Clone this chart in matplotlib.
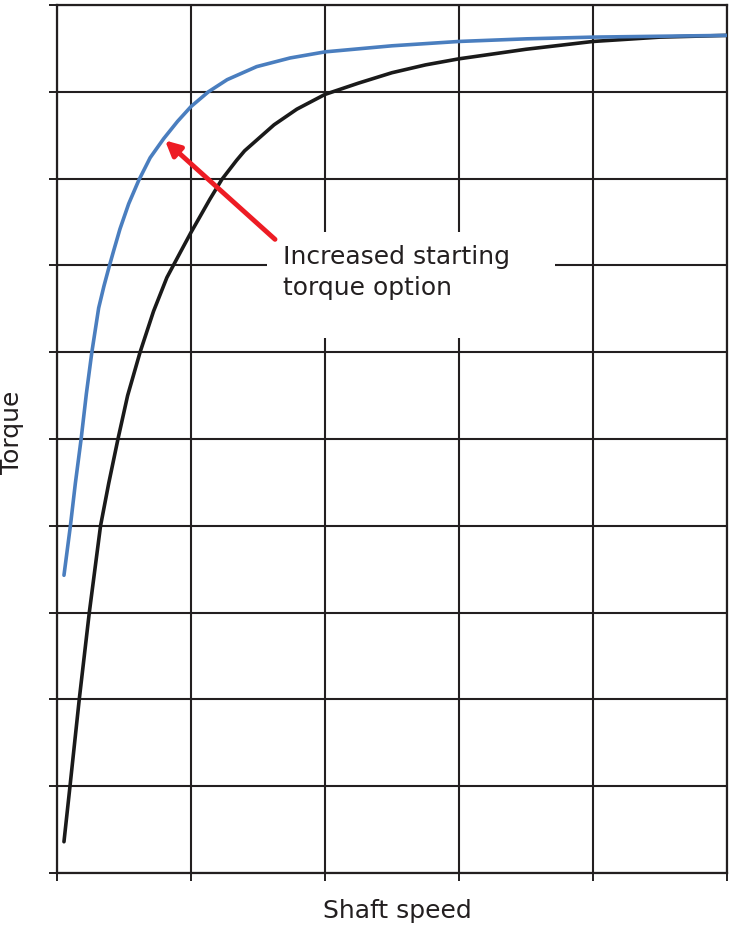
import matplotlib
matplotlib.use("Agg")
import matplotlib.pyplot as plt
from matplotlib.patches import Rectangle

# data (x: shaft speed grid units, y: torque grid units)
black_x = [0.052, 0.097, 0.166, 0.241, 0.325, 0.386, 0.455, 0.527, 0.62, 0.72, 0.82, 0.92, 1.0,
           1.14, 1.23, 1.34, 1.40, 1.62, 1.79, 2.0, 2.25, 2.5, 2.75, 3.0, 3.5, 4.0, 4.5, 5.0]
black_y = [0.36, 1.0, 2.0, 3.0, 4.0, 4.49, 5.0, 5.50, 6.0, 6.47, 6.86, 7.15, 7.38,
           7.76, 7.99, 8.21, 8.32, 8.62, 8.80, 8.97, 9.10, 9.22, 9.31, 9.38, 9.49, 9.58, 9.63, 9.65]

blue_x = [0.052, 0.10, 0.137, 0.18, 0.219, 0.26, 0.311, 0.35, 0.39, 0.423, 0.47, 0.535, 0.61, 0.695,
          0.796, 0.90, 1.0, 1.13, 1.27, 1.49, 1.74, 2.0, 2.5, 3.0, 3.5, 4.0, 4.5, 5.0]
blue_y = [3.43, 4.0, 4.49, 5.0, 5.52, 6.0, 6.51, 6.76, 6.99, 7.17, 7.42, 7.71, 7.98, 8.24,
          8.46, 8.66, 8.83, 9.0, 9.14, 9.29, 9.39, 9.46, 9.53, 9.58, 9.61, 9.63, 9.64, 9.65]

x_ticks = [0, 1, 2, 3, 4, 5]
y_ticks = [0, 1, 2, 3, 4, 5, 6, 7, 8, 9, 10]

annotation_text = "Increased starting\ntorque option"
arrow_tip = (0.806, 8.44)
arrow_tail = (1.627, 7.30)

fig = plt.figure(figsize=(7.29, 9.26), dpi=100)
ax = fig.add_axes([57/729, (926-873)/926, (727-57)/729, (873-5)/926])

grid_col = "#231f20"
ax.set_xlim(0, 5)
ax.set_ylim(0, 10)
ax.set_xticks(x_ticks)
ax.set_yticks(y_ticks)
ax.set_xticklabels([])
ax.set_yticklabels([])
ax.tick_params(length=6, width=1.4, color=grid_col, direction="out")
for s in ax.spines.values():
    s.set_color(grid_col)
    s.set_linewidth(1.6)
ax.grid(True, color=grid_col, linewidth=1.5)
ax.set_axisbelow(True)

# white box behind annotation text (covers grid)
ax.add_patch(Rectangle((1.567, 6.16), 2.15, 1.22, facecolor="white", edgecolor="none", zorder=1))

ax.plot(black_x, black_y, color="#1a1a1a", linewidth=2.6, zorder=3,
        solid_capstyle="round", solid_joinstyle="round")
ax.plot(blue_x, blue_y, color="#4a7ebf", linewidth=2.6, zorder=3,
        solid_capstyle="round", solid_joinstyle="round")

ax.annotate("", xy=arrow_tip, xytext=arrow_tail,
            arrowprops=dict(arrowstyle="-|>,head_length=0.9,head_width=0.45", color="#ed1c24",
                            linewidth=3.5, shrinkA=0, shrinkB=0), zorder=4)
ax.text(1.687, 6.92, annotation_text, fontsize=18, color="#231f20", va="center", ha="left",
        linespacing=1.35, zorder=4)

ax.set_xlabel("Shaft speed", fontsize=18, color="#231f20")
ax.set_ylabel("Torque", fontsize=18, color="#231f20")
ax.xaxis.set_label_coords(0.508, -0.030)
ax.yaxis.set_label_coords(-0.050, 0.508)

fig.savefig("out.png", dpi=100)
